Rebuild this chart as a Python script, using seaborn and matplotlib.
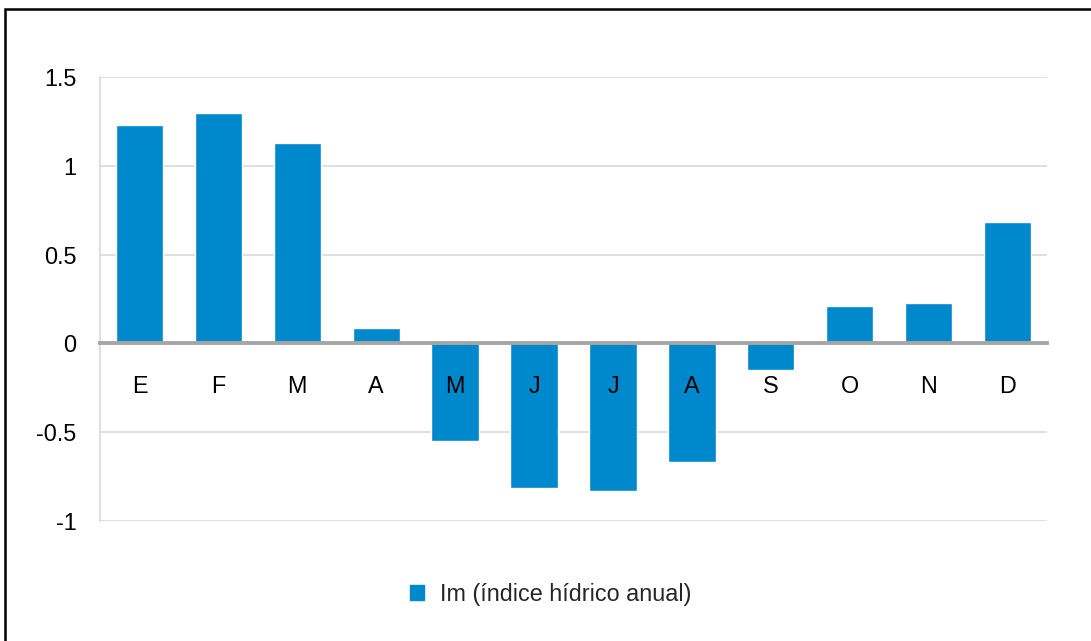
import numpy as np
import pandas as pd
import matplotlib
matplotlib.use('Agg')
import matplotlib.pyplot as plt
import matplotlib.patches as patches
from matplotlib.ticker import FuncFormatter
import seaborn as sns

# ─── data ─────────────────────────────────────────────────────
months = ['E', 'F', 'M', 'A', 'M', 'J', 'J', 'A', 'S', 'O', 'N', 'D']
im_values = [1.23, 1.30, 1.13, 0.085, -0.55, -0.815, -0.83, -0.67, -0.15, 0.21, 0.23, 0.685]
series_name = 'Im (índice hídrico anual)'
y_ticks = [-1, -0.5, 0, 0.5, 1, 1.5]

df = pd.DataFrame({'idx': np.arange(len(months)), 'value': im_values})

sns.set_theme(style='white')
plt.rcParams['font.family'] = ['Liberation Sans', 'DejaVu Sans']

bar_color = '#0088cc'
grid_color = '#d9d9d9'
zero_color = '#a6a6a6'
fs = 16.8

fig = plt.figure(figsize=(10.91, 6.41), dpi=100)
ax = fig.add_axes([100 / 1091, 1 - 521 / 641, (1047 - 100) / 1091, (521 - 77) / 641])

sns.barplot(data=df, x='idx', y='value', color=bar_color, width=0.6,
            saturation=1, ax=ax, label=series_name, zorder=2)

ax.set_ylim(-1, 1.5)
ax.set_xlim(-0.5, len(months) - 0.5)
ax.set_yticks(y_ticks)
ax.yaxis.set_major_formatter(FuncFormatter(lambda v, p: f'{v:g}'))
ax.set_xticks(np.arange(len(months)))
ax.set_xticklabels(months)
ax.set_xlabel('')
ax.set_ylabel('')

# gridlines behind the bars, tick labels above them
for t in y_ticks:
    if t != 0:
        ax.axhline(t, color=grid_color, linewidth=1.2, zorder=0.5)
ax.set_axisbelow(False)

for s in ['top', 'right']:
    ax.spines[s].set_visible(False)
ax.spines['left'].set_color(grid_color)
ax.spines['left'].set_linewidth(1.2)
ax.spines['left'].set_zorder(0.6)
ax.spines['bottom'].set_position(('data', 0))
ax.spines['bottom'].set_color(zero_color)
ax.spines['bottom'].set_linewidth(2.8)
ax.spines['bottom'].set_zorder(3)

ax.tick_params(axis='x', length=0, pad=23, labelsize=fs, colors='black')
ax.tick_params(axis='y', length=0, pad=17, labelsize=fs, colors='black')

if ax.get_legend() is not None:
    ax.get_legend().remove()
fig.legend(handles=[patches.Patch(color=bar_color)], labels=[series_name],
           loc='center', bbox_to_anchor=(551 / 1091, 1 - 594 / 641),
           frameon=False, fontsize=fs, handlelength=0.6, handleheight=0.6,
           handletextpad=0.7)

# outer frame (cut off at right and bottom)
frame = patches.Rectangle((5 / 1091, -0.1), 1.2, 1 - 9 / 641 + 0.1,
                          transform=fig.transFigure, fill=False,
                          edgecolor='black', linewidth=1.8)
fig.patches.append(frame)

fig.savefig('out.png', dpi=100)
